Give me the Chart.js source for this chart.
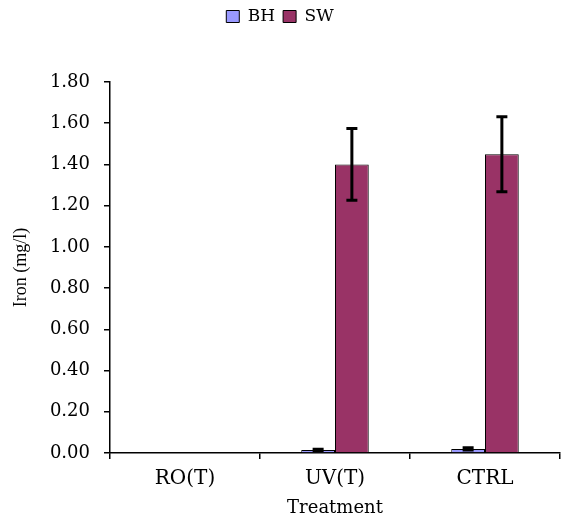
<!DOCTYPE html>
<html>
<head>
<meta charset="utf-8">
<script src="https://cdn.jsdelivr.net/npm/chart.js@4"></script>
<style>
html,body{margin:0;padding:0;background:#fff;}
#wrap{width:564px;height:524px;}
</style>
</head>
<body>
<div id="wrap"><canvas id="c" width="564" height="524"></canvas></div>
<script>
const categories = ["RO(T)", "UV(T)", "CTRL"];
const bhValues = [0.004, 0.015, 0.02];
const bhErrors = [0, 0.003, 0.006];
const swValues = [0.004, 1.40, 1.45];
const swErrors = [0, 0.174, 0.182];
const yTicks = [0, 0.2, 0.4, 0.6, 0.8, 1.0, 1.2, 1.4, 1.6, 1.8];

const FONT = "'DejaVu Serif', 'Liberation Serif', serif";
const TFONT = "'Liberation Serif', 'Times New Roman', serif";

const errorBars = {
  id: 'errorBars',
  afterDatasetsDraw(chart) {
    const ctx = chart.ctx;
    const y = chart.scales.y;
    chart.data.datasets.forEach((ds, i) => {
      const meta = chart.getDatasetMeta(i);
      meta.data.forEach((bar, j) => {
        const v = ds.data[j], e = ds.errors[j];
        if (!e) return;
        const top = y.getPixelForValue(v + e);
        const bot = y.getPixelForValue(Math.max(0, v - e));
        ctx.save();
        ctx.strokeStyle = '#000';
        ctx.lineWidth = 3;
        ctx.beginPath();
        ctx.moveTo(bar.x, top); ctx.lineTo(bar.x, bot);
        ctx.moveTo(bar.x - 5.5, top); ctx.lineTo(bar.x + 5.5, top);
        ctx.moveTo(bar.x - 5.5, bot); ctx.lineTo(bar.x + 5.5, bot);
        ctx.stroke();
        ctx.restore();
      });
    });
  }
};

const legendGap = {
  id: 'legendGap',
  beforeInit(chart) {
    const origFit = chart.legend.fit;
    chart.legend.fit = function () {
      origFit.bind(chart.legend)();
      this.height += 47;
    };
  }
};

new Chart(document.getElementById('c'), {
  type: 'bar',
  data: {
    labels: categories,
    datasets: [
      { label: 'BH', data: bhValues, errors: bhErrors, backgroundColor: '#9999FF', borderColor: '#000', borderWidth: 1, categoryPercentage: 0.45, barPercentage: 1.0 },
      { label: 'SW', data: swValues, errors: swErrors, backgroundColor: '#993366', borderColor: '#000', borderWidth: 1, categoryPercentage: 0.45, barPercentage: 1.0 }
    ]
  },
  plugins: [errorBars, legendGap],
  options: {
    responsive: false,
    animation: false,
    layout: { padding: { top: 0, right: 4, left: 0, bottom: 0 } },
    plugins: {
      legend: {
        position: 'top',
        labels: {
          font: { family: FONT, size: 17 },
          color: '#000',
          boxWidth: 13, boxHeight: 12,
          padding: 8,
          generateLabels(chart) {
            return chart.data.datasets.map((ds, i) => ({
              text: ds.label, fillStyle: ds.backgroundColor, strokeStyle: '#000', lineWidth: 1, datasetIndex: i, fontColor: '#000'
            }));
          }
        }
      },
      tooltip: { enabled: false }
    },
    scales: {
      x: {
        grid: { display: true, drawOnChartArea: false, tickLength: 6, color: '#000', lineWidth: 1.5, offset: true },
        border: { color: '#000', width: 1.5 },
        ticks: { font: { family: FONT, size: 20 }, color: '#000', padding: 8 },
        title: { display: true, text: 'Treatment', font: { family: FONT, size: 18 }, color: '#000', padding: { top: 0, bottom: 5 } },
        afterFit(s) { s.height = 71; }
      },
      y: {
        min: 0, max: 1.8,
        afterBuildTicks(s) { s.ticks = yTicks.map(v => ({ value: v })); },
        grid: { display: true, drawOnChartArea: false, tickLength: 6, color: '#000', lineWidth: 1.5 },
        border: { color: '#000', width: 1.5 },
        ticks: { font: { family: FONT, size: 18 }, color: '#000', padding: 14, callback: v => v.toFixed(2) },
        title: { display: true, text: 'Iron (mg/l)', font: { family: TFONT, size: 18 }, color: '#000', padding: { top: 10, bottom: 0 } },
        afterFit(s) { s.width = 110; }
      }
    }
  }
});
</script>
</body>
</html>
